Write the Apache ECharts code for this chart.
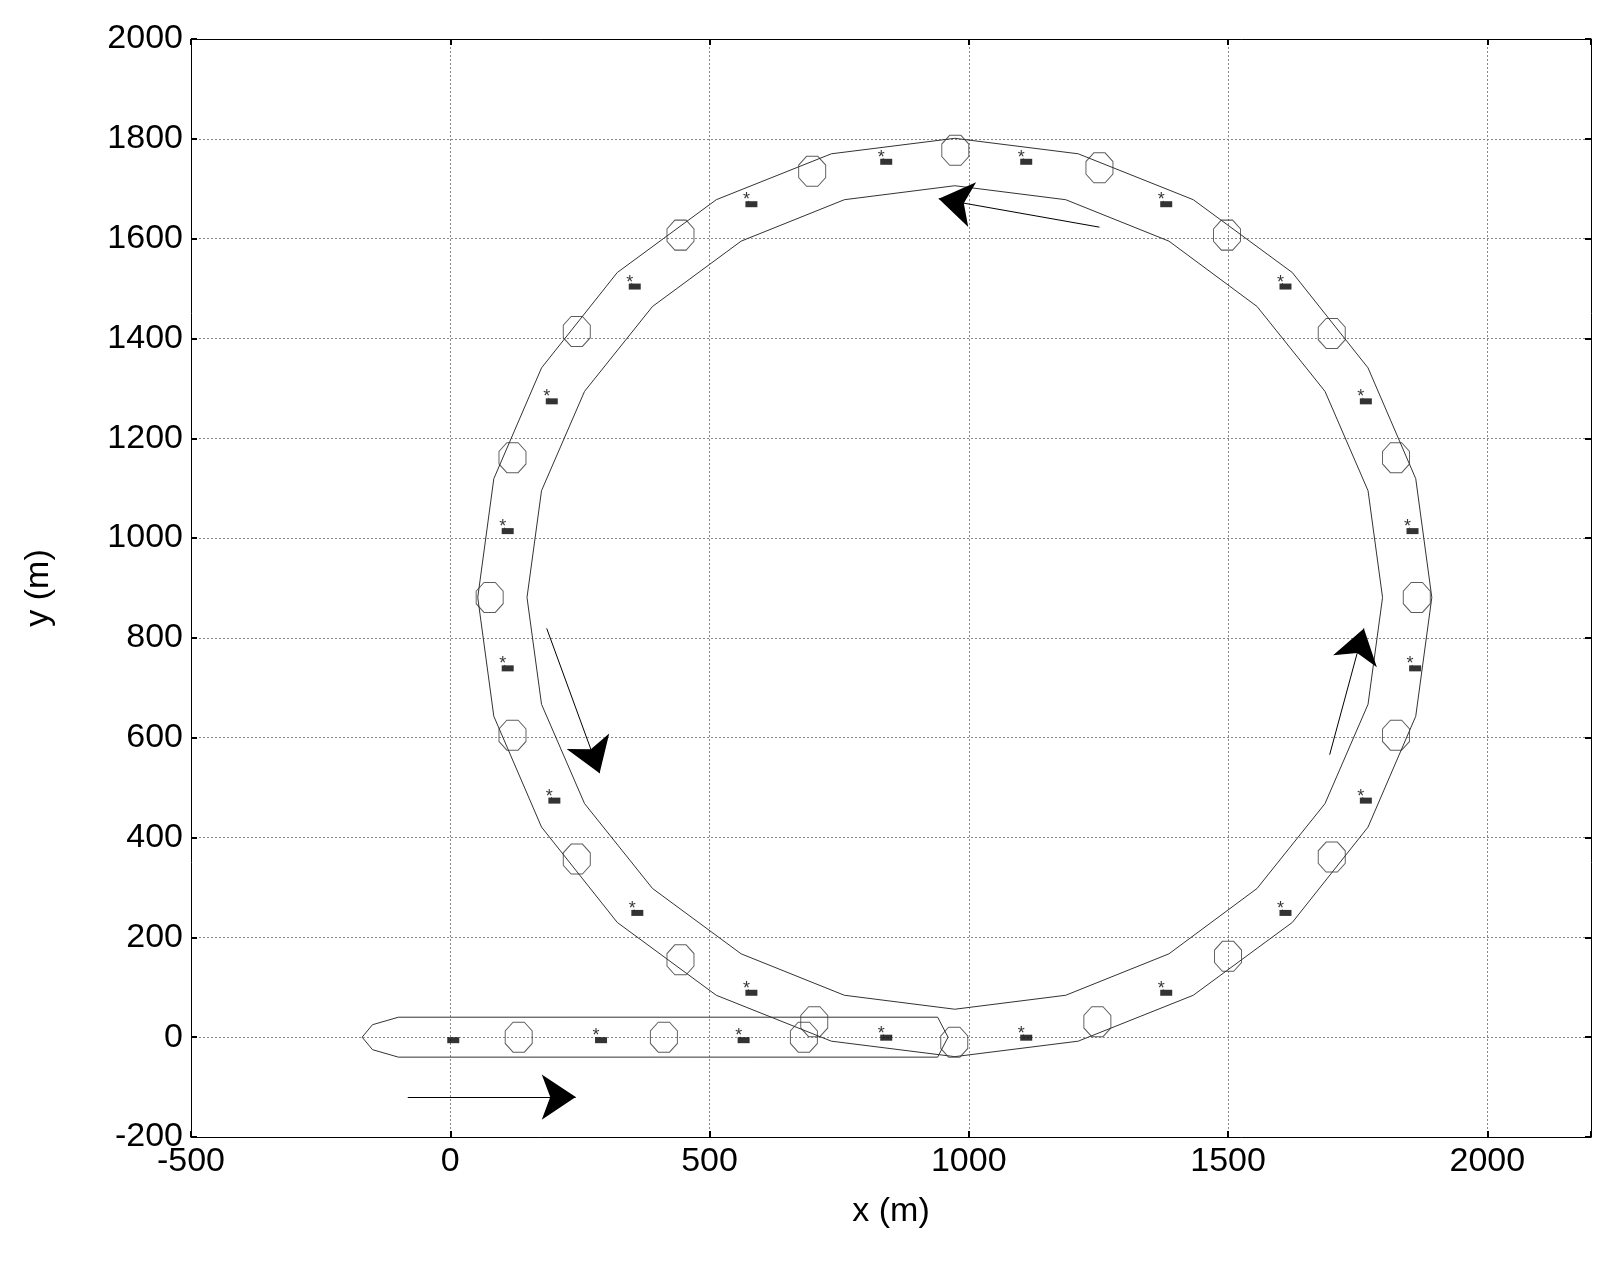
<!DOCTYPE html>
<html><head><meta charset="utf-8">
<script src="https://cdn.jsdelivr.net/npm/echarts@6/dist/echarts.min.js"></script>
<style>html,body{margin:0;background:#fff}#c{width:1621px;height:1277px}</style>
</head><body><div id="c"></div>
<script>
// outer and inner edges of the footprint ring (m)
var outerRing = [[1893,881],[1862,1119],[1770,1341],[1624,1532],[1433,1678],[1211,1770],[973,1801],[735,1770],[513,1678],[322,1532],[176,1341],[84,1119],[53,881],[84,643],[176,421],[322,230],[513,84],[735,-8],[973,-39],[1211,-8],[1433,84],[1624,230],[1770,421],[1862,643],[1893,881]];
var innerRing = [[1798,881],[1770,1095],[1687,1294],[1556,1464],[1386,1595],[1187,1678],[973,1706],[760,1678],[561,1595],[390,1464],[259,1294],[176,1095],[148,881],[176,667],[259,468],[390,298],[561,167],[760,84],[973,56],[1187,84],[1386,167],[1556,298],[1687,468],[1770,667],[1798,881]];
var startBand = [[-170,0],[-150,25],[-100,40],[940,40],[960,0],[940,-40],[-100,-40],[-150,-25],[-170,0]];
var joints = [[974,1777],[1252,1742],[1498,1607],[1700,1410],[1824,1161],[1864,881],[1824,605],[1700,361],[1500,162],[1248,31],[972,-10],[702,31],[444,155],[244,357],[120,605],[76,881],[120,1161],[244,1414],[444,1607],[698,1735],[132,0],[412,0],[682,0]];
var sensors = [[835,1760],[1105,1760],[1375,1675],[1605,1510],[1760,1280],[1850,1020],[1855,745],[1760,480],[1605,255],[1375,95],[1105,5],[835,5],[560,0],[285,0],[575,1675],[350,1510],[190,1280],[105,1020],[105,745],[195,480],[355,255],[575,95]];
var targets = [[0,0]].concat(sensors);
var arrows = [[[1252,1623],[942,1680]],[[186,819],[288,529]],[[1696,566],[1762,819]],[[-82,-120],[242,-120]]];

var chart = echarts.init(document.getElementById('c'));
var F = 'Liberation Sans, Arial, sans-serif';
function ax(min, max, iv, name, gap, pos, box) {
  return {type:'value', min:min, max:max, interval:iv, name:box ? '' : name, nameLocation:'middle', nameGap:gap, position:pos,
    nameTextStyle:{fontSize:34, color:'#000', fontFamily:F},
    axisLine:{show:true, onZero:false, lineStyle:{color:'#000', width:1}},
    axisTick:{inside:true, length:6, lineStyle:{color:'#000', width:2}},
    axisLabel:{show:!box, fontSize:34, color:'#000', fontFamily:F, margin:8,
      formatter:function(v){return v>=2100 && iv===500 ? '' : v;}},
    splitLine:{show:!box, lineStyle:{color:'#888', type:[2,2], width:1}}};
}
function line(d){return {type:'line', data:d, symbol:'none', lineStyle:{color:'#333', width:1}, z:3, silent:true};}
chart.setOption({
  backgroundColor:'#fff', animation:false,
  grid:{left:191, top:39, right:30, bottom:140},
  xAxis:[ax(-500,2200,500,'x (m)',58,'bottom'), ax(-500,2200,500,'',0,'top',true)],
  yAxis:[ax(-200,2000,200,'y (m)',135,'left'), ax(-200,2000,200,'',0,'right',true)],
  series:[
    line(outerRing), line(innerRing), line(startBand),
    {type:'scatter', data:joints, symbol:'path://M-1,-2.4L1,-2.4L2.4,-1L2.4,1L1,2.4L-1,2.4L-2.4,1L-2.4,-1Z', symbolSize:[27,30],
      itemStyle:{color:'rgba(0,0,0,0)', borderColor:'#333', borderWidth:1}, z:3},
    {type:'scatter', data:targets, symbol:'rect', symbolSize:[12,6], symbolOffset:[3,3], itemStyle:{color:'#000'}, z:5},
    {type:'scatter', data:sensors, symbolSize:1, itemStyle:{color:'#000'},
      label:{show:true, formatter:'*', position:'inside', offset:[-2,-1], fontSize:18, color:'#000', fontFamily:F}, z:5},
    {type:'lines', coordinateSystem:'cartesian2d', polyline:false, data:arrows.map(function(a){return {coords:a};}),
      symbol:['none','arrow'], symbolSize:34, lineStyle:{color:'#000', width:1, opacity:1}, z:6}
  ]
});
</script></body></html>
